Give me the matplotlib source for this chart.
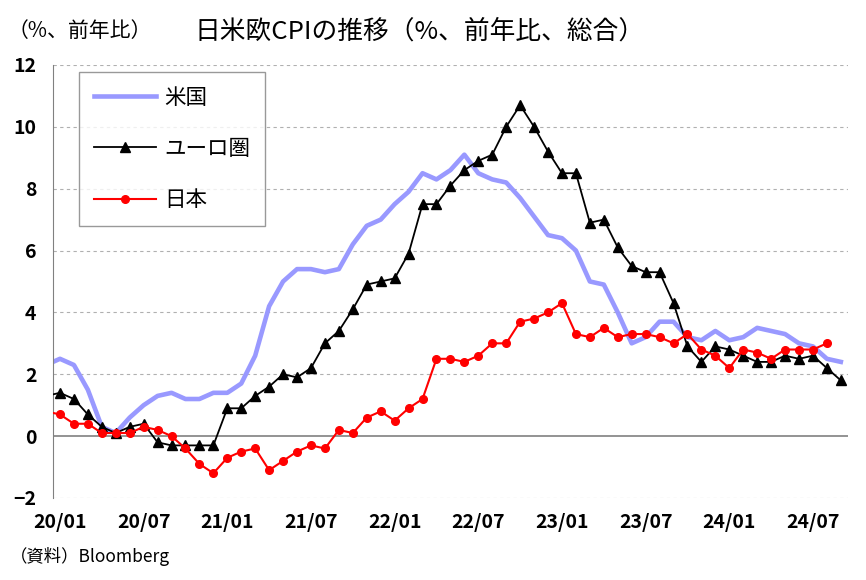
import numpy as np
import matplotlib
matplotlib.use('Agg')
import matplotlib.pyplot as plt

plt.rcParams['font.family'] = ['Noto Sans CJK JP', 'DejaVu Sans']

# months: index -1 = 2019/12, 0 = 2020/01 ... 56 = 2024/09
us = [2.3,
      2.5, 2.3, 1.5, 0.3, 0.1, 0.6, 1.0, 1.3, 1.4, 1.2, 1.2, 1.4,
      1.4, 1.7, 2.6, 4.2, 5.0, 5.4, 5.4, 5.3, 5.4, 6.2, 6.8, 7.0,
      7.5, 7.9, 8.5, 8.3, 8.6, 9.1, 8.5, 8.3, 8.2, 7.7, 7.1, 6.5,
      6.4, 6.0, 5.0, 4.9, 4.0, 3.0, 3.2, 3.7, 3.7, 3.2, 3.1, 3.4,
      3.1, 3.2, 3.5, 3.4, 3.3, 3.0, 2.9, 2.5, 2.4]
euro = [1.3,
        1.4, 1.2, 0.7, 0.3, 0.1, 0.3, 0.4, -0.2, -0.3, -0.3, -0.3, -0.3,
        0.9, 0.9, 1.3, 1.6, 2.0, 1.9, 2.2, 3.0, 3.4, 4.1, 4.9, 5.0,
        5.1, 5.9, 7.5, 7.5, 8.1, 8.6, 8.9, 9.1, 10.0, 10.7, 10.0, 9.2,
        8.5, 8.5, 6.9, 7.0, 6.1, 5.5, 5.3, 5.3, 4.3, 2.9, 2.4, 2.9,
        2.8, 2.6, 2.4, 2.4, 2.6, 2.5, 2.6, 2.2, 1.8]
japan = [0.8,
         0.7, 0.4, 0.4, 0.1, 0.1, 0.1, 0.3, 0.2, 0.0, -0.4, -0.9, -1.2,
         -0.7, -0.5, -0.4, -1.1, -0.8, -0.5, -0.3, -0.4, 0.2, 0.1, 0.6, 0.8,
         0.5, 0.9, 1.2, 2.5, 2.5, 2.4, 2.6, 3.0, 3.0, 3.7, 3.8, 4.0,
         4.3, 3.3, 3.2, 3.5, 3.2, 3.3, 3.3, 3.2, 3.0, 3.3, 2.8, 2.6,
         2.2, 2.8, 2.7, 2.5, 2.8, 2.8, 2.8, 3.0]

tick_pos = [0, 6, 12, 18, 24, 30, 36, 42, 48, 54]
tick_labels = ['20/01', '20/07', '21/01', '21/07', '22/01', '22/07',
               '23/01', '23/07', '24/01', '24/07']

x_us = np.arange(-1, len(us) - 1)
x_eu = np.arange(-1, len(euro) - 1)
x_jp = np.arange(-1, len(japan) - 1)

fig = plt.figure(figsize=(8.66, 5.8), dpi=100)
ax = fig.add_axes([0.0612, 0.1414, 0.9178, 0.7466])

# grid lines
for v in [-2, 2, 4, 6, 8, 10, 12]:
    ax.axhline(v, color='#b0b0b0', lw=0.8, ls=(0, (3, 3)), zorder=0)
ax.axhline(0, color='#808080', lw=1.2, zorder=1)

ax.plot(x_us, us, color='#9999FF', lw=3.3, label='米国', zorder=2,
        solid_joinstyle='round')
ax.plot(x_eu, euro, color='black', lw=1.3, marker='^', ms=6.5,
        label='ユーロ圏', zorder=3)
ax.plot(x_jp, japan, color='#FF0000', lw=1.5, marker='o', ms=5.5,
        label='日本', zorder=4)

ax.set_xlim(-0.5, 56.5)
ax.set_ylim(-2, 12)
ax.set_yticks(range(-2, 13, 2))
ax.set_yticklabels([str(v) if v >= 0 else '−' + str(-v) for v in range(-2, 13, 2)])
ax.set_xticks(tick_pos)
ax.set_xticklabels(tick_labels)
ax.tick_params(axis='both', length=0, labelsize=14)
ax.tick_params(axis='y', pad=12)
ax.tick_params(axis='x', pad=11)
for lab in ax.get_xticklabels() + ax.get_yticklabels():
    lab.set_fontweight('bold')

for s in ['top', 'right', 'bottom']:
    ax.spines[s].set_visible(False)
ax.spines['left'].set_color('#808080')

leg = ax.legend(loc='upper left', bbox_to_anchor=(0.0327, 0.984),
                borderaxespad=0, fontsize=15.5, frameon=True, fancybox=False,
                edgecolor='#808080', handlelength=2.9, labelspacing=1.35,
                borderpad=0.7, handletextpad=0.35)
leg.get_frame().set_linewidth(1.0)

fig.text(0.009, 0.947, '（%、前年比）', fontsize=15, ha='left', va='center')
fig.text(0.485, 0.945, '日米欧CPIの推移（%、前年比、総合）', fontsize=18.5,
         ha='center', va='center')
fig.text(0.011, 0.040, '（資料）Bloomberg', fontsize=12.5, ha='left', va='center')

fig.savefig('out.png', dpi=100)
